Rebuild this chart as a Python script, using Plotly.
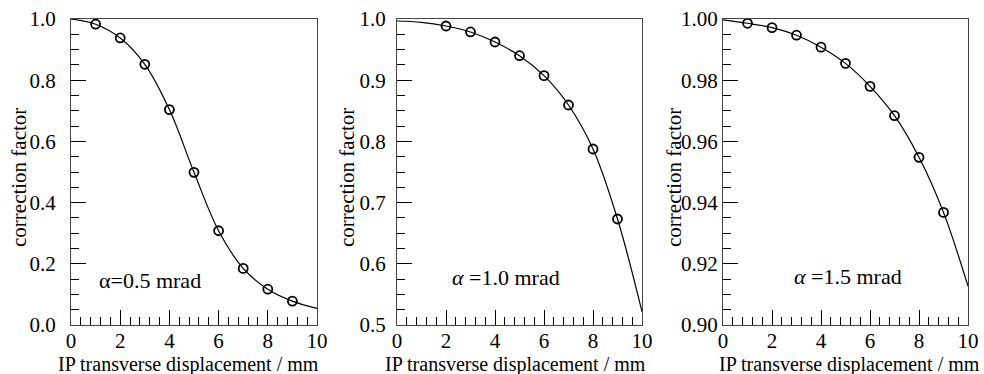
import plotly.graph_objects as go

# ---- data ----
marker_x1 = [1, 2, 3, 4, 5, 6, 7, 8, 9]
marker_y1 = [0.983, 0.938, 0.852, 0.704, 0.499, 0.308, 0.185, 0.117, 0.078]
curve_x = [0, 1, 2, 3, 4, 5, 6, 7, 8, 9, 10]
curve_y1 = [1.0, 0.983, 0.938, 0.852, 0.704, 0.499, 0.308, 0.185, 0.117, 0.078, 0.054]

marker_x2 = [2, 3, 4, 5, 6, 7, 8, 9]
marker_y2 = [0.9886, 0.9788, 0.9624, 0.940, 0.9074, 0.8595, 0.7876, 0.6732]
curve_y2 = [0.9967, 0.9946, 0.9886, 0.9788, 0.9624, 0.940, 0.9074, 0.8595, 0.7876, 0.6732, 0.5218]

marker_x3 = [1, 2, 3, 4, 5, 6, 7, 8, 9]
marker_y3 = [0.9986, 0.9972, 0.9947, 0.9908, 0.9855, 0.978, 0.9684, 0.9548, 0.9368]
curve_y3 = [0.9997, 0.9986, 0.9972, 0.9947, 0.9908, 0.9855, 0.978, 0.9684, 0.9548, 0.9368, 0.9127]

labels = ["α=0.5 mrad", "<i>α</i> =1.0 mrad", "<i>α</i> =1.5 mrad"]
label_pos = [(3.2, 0.147), (4.45, 0.578), (5.1, 0.9157)]
y_ranges = [(0.0, 1.0), (0.5, 1.0), (0.90, 1.00)]
y_dticks = [0.2, 0.1, 0.02]
y_minor = [0.05, 0.025, 0.005]
y_formats = [".1f", ".1f", ".2f"]
x_title = "IP transverse displacement / mm"
y_title = "correction factor"

W, H = 984, 374
FONT = "Liberation Serif, Times New Roman, serif"

x_domains = [(71 / W, 317 / W), (397 / W, 642 / W), (723 / W, 968 / W)]
y_domain = (1 - 325 / H, 1 - 19 / H)
y_standoff = [10, 6, 0]

fig = go.Figure()
series = [(marker_x1, marker_y1, curve_y1), (marker_x2, marker_y2, curve_y2), (marker_x3, marker_y3, curve_y3)]
for i, (mx, my, cy) in enumerate(series):
    xa = "x" if i == 0 else f"x{i+1}"
    ya = "y" if i == 0 else f"y{i+1}"
    fig.add_trace(go.Scatter(x=curve_x, y=cy, mode="lines", line=dict(color="black", width=1.2, shape="spline"),
                             xaxis=xa, yaxis=ya, showlegend=False, hoverinfo="skip"))
    fig.add_trace(go.Scatter(x=mx, y=my, mode="markers",
                             marker=dict(symbol="circle-open", size=9, color="black", line=dict(width=1.8, color="black")),
                             xaxis=xa, yaxis=ya, showlegend=False))

layout = dict(width=W, height=H, margin=dict(l=0, r=0, t=0, b=0, autoexpand=False),
              paper_bgcolor="white", plot_bgcolor="white",
              font=dict(family=FONT, size=21, color="black"))
annotations = []
xt_centers = [188, 515, 849]
yt_centers = [19, 347, 674]
for i in range(3):
    xk = "xaxis" if i == 0 else f"xaxis{i+1}"
    yk = "yaxis" if i == 0 else f"yaxis{i+1}"
    ya = "y" if i == 0 else f"y{i+1}"
    xa = "x" if i == 0 else f"x{i+1}"
    layout[xk] = dict(domain=list(x_domains[i]), anchor=ya, range=[0, 10], dtick=2, tick0=0,
                      ticks="inside", ticklen=15, tickcolor="black", tickwidth=1, ticklabelstandoff=-3,
                      minor=dict(dtick=0.4, tick0=0, ticks="inside", ticklen=8, tickcolor="black", tickwidth=1),
                      showline=True, linecolor="#444", linewidth=1, mirror=True, showgrid=False, zeroline=False,
                      automargin=False, tickfont=dict(size=21))
    layout[yk] = dict(domain=list(y_domain), anchor=xa, range=list(y_ranges[i]), dtick=y_dticks[i], tick0=0,
                      tickformat=y_formats[i],
                      ticks="inside", ticklen=15, tickcolor="black", tickwidth=1, ticklabelstandoff=y_standoff[i],
                      minor=dict(dtick=y_minor[i], ticks="inside", ticklen=8, tickcolor="black", tickwidth=1),
                      showline=True, linecolor="#444", linewidth=1, mirror=True, showgrid=False, zeroline=False,
                      automargin=False, tickfont=dict(size=21))
    annotations.append(dict(text=x_title, xref="paper", yref="paper", x=xt_centers[i] / W, y=1 - 364 / H,
                            xanchor="center", yanchor="middle", showarrow=False, font=dict(size=20)))
    annotations.append(dict(text=y_title, xref="paper", yref="paper", x=yt_centers[i] / W, y=1 - 178 / H,
                            xanchor="center", yanchor="middle", showarrow=False, textangle=-90, font=dict(size=21)))
    annotations.append(dict(text=labels[i], xref=xa, yref=ya, x=label_pos[i][0], y=label_pos[i][1],
                            xanchor="center", yanchor="middle", showarrow=False, font=dict(size=22)))
layout["annotations"] = annotations
fig.update_layout(**layout)
fig.write_html("out.html")
